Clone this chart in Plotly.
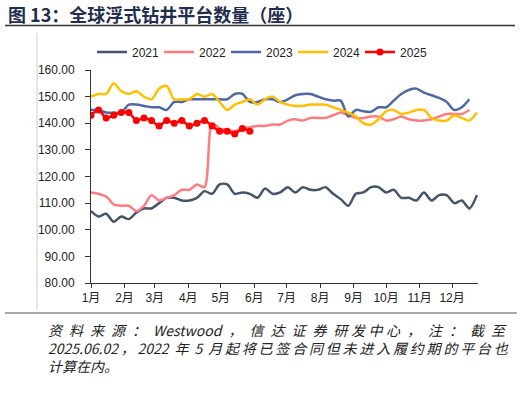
import plotly.graph_objects as go

weeks = list(range(52))
days = [7 * w for w in weeks]

s2021 = [107, 105, 106, 103, 105, 104, 106.5, 108, 108, 110, 112, 112, 111, 111, 112, 114.5,
         113.5, 117, 117, 113.5, 114, 113.5, 112, 115.5, 113.5, 114, 116, 114, 116, 115, 115, 116,
         113.5, 111.5, 109, 113.5, 114, 116, 116, 114, 115, 112, 112, 111, 114, 111, 113, 113,
         110, 111, 108, 113]
s2022 = [114, 113.5, 112.5, 109.5, 109, 109, 107, 109, 113, 111, 112, 113, 115, 115, 117, 116,
         140, 138, 137.5, 137, 138, 138.5, 139, 139, 139.5, 139.5, 141, 141.5, 141, 142, 142, 142,
         143, 144, 143, 142, 142, 142.5, 142.5, 141, 141.5, 142.5, 141.5, 141, 141, 141.5, 142.5,
         143.5, 143.5, 143.5, 145]
s2023 = [145, 145, 144, 144, 144, 147, 147, 146.5, 146, 146, 145, 148, 148, 149, 149, 149,
         149, 149, 149, 151, 151, 148, 148, 149, 149, 148, 149, 150.5, 151, 151, 150, 149,
         148.5, 148.5, 142.5, 145, 144.5, 144.3, 146, 146, 148.5, 151, 152.5, 153, 151.5, 150.5,
         149.5, 148, 145, 146, 149]
s2024 = [150, 151, 151, 155, 152, 151, 152, 150, 149, 153, 154, 149, 149, 149, 151, 150,
         151, 148, 145, 147, 148, 149, 147, 149, 150, 148, 147, 146.5, 146.5, 147, 147, 147,
         146, 145, 144, 142.5, 140, 139.5, 141.5, 144.5, 145, 143.5, 144, 145, 145, 142, 141,
         141, 143, 142, 141, 144]
s2025 = [143, 145, 142, 143, 144, 144, 141, 142, 141, 139, 141, 140, 141, 139, 140, 141,
         139, 137, 137, 136, 138, 137]

month_days = [0, 31, 59, 90, 120, 151, 181, 212, 243, 273, 304, 334]
month_labels = ["1月", "2月", "3月", "4月", "5月", "6月", "7月", "8月", "9月", "10月", "11月", "12月"]
y_ticks = [80, 90, 100, 110, 120, 130, 140, 150, 160]

series = [
    ("2021", s2021, "#44546A"),
    ("2022", s2022, "#FF7C80"),
    ("2023", s2023, "#5068A2"),
    ("2024", s2024, "#FFC000"),
]

fig = go.Figure()
for name, vals, col in series:
    fig.add_trace(go.Scatter(
        x=days[:len(vals)], y=vals, name=name, mode="lines",
        line=dict(color=col, width=2.5, shape="spline", smoothing=0.8),
    ))
fig.add_trace(go.Scatter(
    x=days[:len(s2025)], y=s2025, name="2025", mode="lines+markers",
    line=dict(color="#FF0000", width=2.5, shape="spline", smoothing=0.8),
    marker=dict(color="#FF0000", size=7),
))

L, R, T, B = 91, 478, 70, 283
W, H = 522, 394


def px(x):
    return (x - L) / (R - L)


def py(y):
    return (B - y) / (B - T)


font_main = "Liberation Sans, Arial, Noto Sans CJK SC, sans-serif"

fig.update_layout(
    width=W, height=H,
    margin=dict(l=L, r=W - R, t=T, b=H - B, pad=0),
    paper_bgcolor="white", plot_bgcolor="white",
    font=dict(family=font_main, size=12, color="#222222"),
    showlegend=True,
    legend=dict(orientation="h", x=px(92), y=py(52), xanchor="left", yanchor="middle",
                font=dict(size=12, color="#222222"), itemwidth=30, entrywidth=22,
                bgcolor="rgba(0,0,0,0)", tracegroupgap=0),
    xaxis=dict(range=[0, 358], tickmode="array", tickvals=month_days, ticktext=month_labels,
               showgrid=False, zeroline=False, showline=True, linecolor="#333333", linewidth=1,
               ticks="outside", ticklen=4, tickcolor="#333333", tickfont=dict(size=12)),
    yaxis=dict(range=[80, 160], tickmode="array", tickvals=y_ticks,
               ticktext=[f"{v:.2f}" for v in y_ticks], ticklabelstandoff=8,
               showgrid=False, zeroline=False, showline=True, linecolor="#333333", linewidth=1,
               ticks="outside", ticklen=5, tickcolor="#333333", tickfont=dict(size=12)),
)

shapes = [
    dict(type="line", xref="paper", yref="paper", x0=px(5), x1=px(515), y0=py(25.5), y1=py(25.5),
         line=dict(color="#333333", width=1.5)),
    dict(type="line", xref="paper", yref="paper", x0=px(5), x1=px(517), y0=py(313), y1=py(313),
         line=dict(color="#555555", width=1.2)),
    dict(type="line", xref="paper", yref="paper", x0=px(37), x1=px(37), y0=py(33), y1=py(310),
         line=dict(color="#CCCCCC", width=1)),
]
fig.update_layout(shapes=shapes)

cjk = "Noto Sans CJK SC, sans-serif"
fig.add_annotation(xref="paper", yref="paper", x=px(6), y=py(14), xanchor="left", yanchor="middle",
                   showarrow=False, text="<b>图 13：全球浮式钻井平台数量（座）</b>",
                   font=dict(family=cjk, size=18, color="#1F2D4F"))

en = "\u2002"
fp = "\u2005"
th = "\u2009"
line1 = ("资" + en + "料" + en + "来" + en + "源" + en + "：" + en + "Westwood" + en + "，" + en
         + "信" + en + "达" + en + "证" + en + "券" + en + "研" + fp + "发" + fp + "中" + fp + "心"
         + en + "，" + en + "注" + en + "：" + en + "截" + en + "至")
line2 = ("2025.06.02" + th + "，" + th + "2022" + th + " 年 " + th + "5" + th + " 月" + th
         + th.join(list("起将已签合同但未进入履约期的平台也")))
line3 = "计算在内。"
footer = "<i>" + line1 + "<br>" + line2 + "<br>" + line3 + "</i>"
fig.add_annotation(xref="paper", yref="paper", x=px(46), y=py(318), xanchor="left",
                   yanchor="top", align="left", showarrow=False, text=footer,
                   font=dict(family=cjk, size=14, color="#222222"))

fig.write_html("out.html", config={"displayModeBar": False},
               post_script="document.body.style.margin='0';")
